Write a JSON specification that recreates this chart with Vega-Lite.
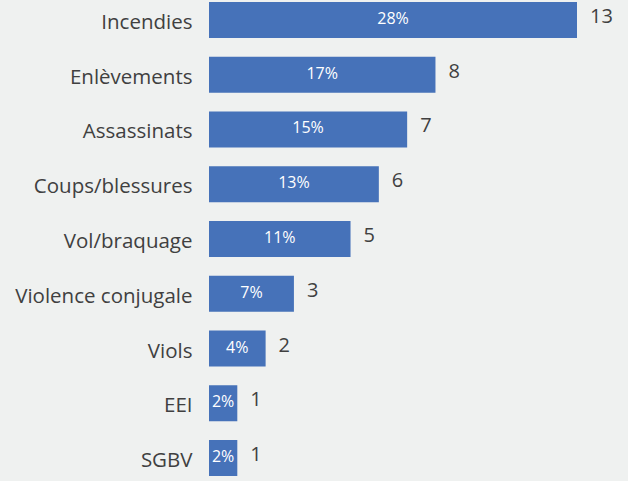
{
  "$schema": "https://vega.github.io/schema/vega-lite/v6.json",
  "width": 368,
  "height": 478,
  "autosize": {"type": "none"},
  "padding": {"left": 209, "top": 0, "right": 51, "bottom": 3},
  "background": "#eff1f0",
  "config": {"view": {"stroke": null}, "font": "Open Sans"},
  "data": {
    "values": [
      {"cat": "Incendies", "n": 13, "pct": "28%"},
      {"cat": "Enlèvements", "n": 8, "pct": "17%"},
      {"cat": "Assassinats", "n": 7, "pct": "15%"},
      {"cat": "Coups/blessures", "n": 6, "pct": "13%"},
      {"cat": "Vol/braquage", "n": 5, "pct": "11%"},
      {"cat": "Violence conjugale", "n": 3, "pct": "7%"},
      {"cat": "Viols", "n": 2, "pct": "4%"},
      {"cat": "EEI", "n": 1, "pct": "2%"},
      {"cat": "SGBV", "n": 1, "pct": "2%"}
    ]
  },
  "transform": [{"calculate": "datum.n / 2", "as": "mid"}],
  "encoding": {
    "y": {
      "field": "cat",
      "type": "nominal",
      "sort": null,
      "scale": {"paddingInner": 0.3425, "paddingOuter": 0.0365},
      "axis": {
        "title": null,
        "domain": false,
        "ticks": false,
        "labelPadding": 17,
        "labelFontSize": 20.5,
        "labelColor": "#404040",
        "labelLimit": 0,
        "labelOffset": 3
      }
    }
  },
  "layer": [
    {
      "mark": {"type": "bar", "color": "#4672b9"},
      "encoding": {
        "x": {"field": "n", "type": "quantitative", "scale": {"domain": [0, 13], "nice": false}, "axis": null}
      }
    },
    {
      "mark": {"type": "text", "color": "white", "fontSize": 16, "dy": -1},
      "encoding": {
        "x": {"field": "mid", "type": "quantitative"},
        "text": {"field": "pct"}
      }
    },
    {
      "mark": {"type": "text", "color": "#404040", "fontSize": 20, "align": "left", "dx": 13, "dy": -3},
      "encoding": {
        "x": {"field": "n", "type": "quantitative"},
        "text": {"field": "n"}
      }
    }
  ]
}
